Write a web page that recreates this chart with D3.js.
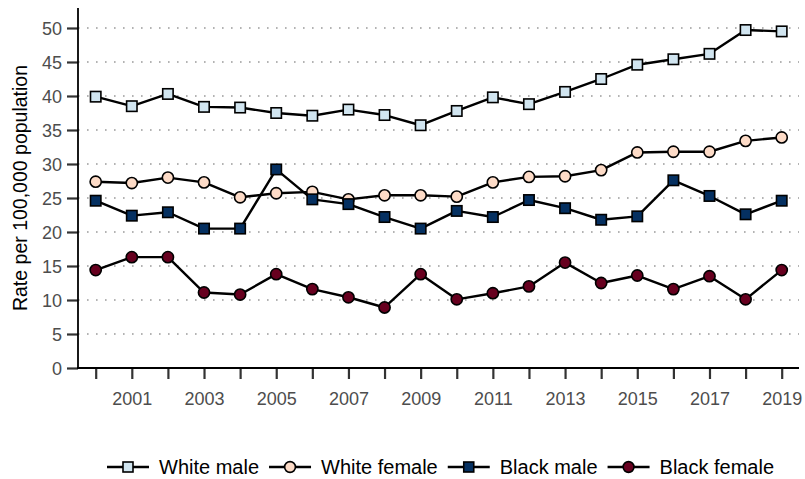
<!DOCTYPE html>
<html>
<head>
<meta charset="utf-8">
<script src="https://cdn.jsdelivr.net/npm/d3@7"></script>
<style>
  html, body { margin: 0; padding: 0; background: #fff; }
  svg { display: block; font-family: "Liberation Sans", Arial, Helvetica, sans-serif; }
</style>
</head>
<body>
<svg id="chart" width="805" height="479"></svg>
<script>
const years = [2000,2001,2002,2003,2004,2005,2006,2007,2008,2009,2010,2011,2012,2013,2014,2015,2016,2017,2018,2019];
const whiteMale   = [39.9,38.5,40.3,38.4,38.3,37.5,37.1,38.0,37.2,35.7,37.8,39.8,38.8,40.6,42.5,44.6,45.4,46.2,49.7,49.5];
const whiteFemale = [27.4,27.2,28.0,27.3,25.1,25.7,25.9,24.8,25.4,25.4,25.2,27.3,28.1,28.2,29.1,31.7,31.8,31.8,33.4,33.9];
const blackMale   = [24.6,22.4,22.9,20.5,20.5,29.2,24.8,24.1,22.2,20.5,23.1,22.2,24.7,23.5,21.8,22.3,27.6,25.3,22.6,24.6];
const blackFemale = [14.4,16.3,16.3,11.1,10.8,13.8,11.6,10.4,8.9,13.8,10.1,11.0,12.0,15.5,12.5,13.6,11.6,13.5,10.1,14.4];
const seriesNames = ["White male","White female","Black male","Black female"];
const seriesColors = ["#d1e5f0","#fddbc7","#053061","#67001f"];
const seriesShapes = ["square","circle","square","circle"];
const yTicks = [0,5,10,15,20,25,30,35,40,45,50];
const xTickYears = [2001,2003,2005,2007,2009,2011,2013,2015,2017,2019];
const yTitle = "Rate per 100,000 population";

const seriesValues = [whiteMale, whiteFemale, blackMale, blackFemale];
const series = seriesNames.map((name, i) => ({
  name, color: seriesColors[i], shape: seriesShapes[i],
  values: years.map((yr, j) => ({year: yr, value: seriesValues[i][j]}))
}));

const svg = d3.select("#chart");
const panel = {left: 78, right: 799, top: 8, bottom: 368};

const x = d3.scaleLinear().domain([2000, 2019]).range([95.7, 781.7]);
const y = d3.scaleLinear().domain([0, 52.94]).range([panel.bottom, panel.top]);

// gridlines
svg.append("g").selectAll("line").data(yTicks.filter(d => d > 0)).join("line")
  .attr("x1", panel.left).attr("x2", panel.right)
  .attr("y1", d => y(d)).attr("y2", d => y(d))
  .attr("stroke", "#9a9a9a").attr("stroke-width", 1.4)
  .attr("stroke-dasharray", "1.6,7.4");

// y axis
const yAxis = d3.axisLeft(y).tickValues(yTicks).tickSize(11).tickPadding(5).tickFormat(d3.format("d"));
const gy = svg.append("g").attr("transform", `translate(${panel.left},0)`).call(yAxis);
gy.select(".domain").remove();
gy.selectAll(".tick line").attr("stroke", "#333").attr("stroke-width", 2.2);
gy.selectAll(".tick text").attr("fill", "#4d4d4d").style("font-size", "18px")
  .style("font-family", "'Liberation Sans', Arial, sans-serif").attr("dy", "0.36em");

// x axis
const xAxis = d3.axisBottom(x).tickValues(years).tickSize(11).tickPadding(13)
  .tickFormat(d => xTickYears.includes(d) ? String(d) : "");
const gx = svg.append("g").attr("transform", `translate(0,${panel.bottom})`).call(xAxis);
gx.select(".domain").remove();
gx.selectAll(".tick line").attr("stroke", "#333").attr("stroke-width", 2.2);
gx.selectAll(".tick text").attr("fill", "#4d4d4d").style("font-size", "18px")
  .style("font-family", "'Liberation Sans', Arial, sans-serif");

// axis lines
svg.append("line").attr("x1", panel.left).attr("x2", panel.left)
  .attr("y1", panel.top).attr("y2", panel.bottom + 1)
  .attr("stroke", "#000").attr("stroke-width", 1.8);
svg.append("line").attr("x1", panel.left - 1).attr("x2", panel.right)
  .attr("y1", panel.bottom).attr("y2", panel.bottom)
  .attr("stroke", "#000").attr("stroke-width", 1.8);

// y title
svg.append("text")
  .attr("transform", `translate(27,${(panel.top + panel.bottom) / 2}) rotate(-90)`)
  .attr("text-anchor", "middle")
  .attr("fill", "#000")
  .style("font-size", "19.5px")
  .text(yTitle);

// lines
const line = d3.line().x(d => x(d.year)).y(d => y(d.value));
svg.append("g").selectAll("path").data(series).join("path")
  .attr("d", d => line(d.values))
  .attr("fill", "none").attr("stroke", "#000").attr("stroke-width", 2.4)
  .attr("stroke-linejoin", "round");

// points
const sq = 10.4, rad = 5.6;
function drawMarker(g, shape, color, cx, cy, s, r) {
  if (shape === "square") {
    g.append("rect").attr("x", cx - s/2).attr("y", cy - s/2).attr("width", s).attr("height", s)
      .attr("fill", color).attr("stroke", "#000").attr("stroke-width", 1.6);
  } else {
    g.append("circle").attr("cx", cx).attr("cy", cy).attr("r", r)
      .attr("fill", color).attr("stroke", "#000").attr("stroke-width", 1.6);
  }
}
series.forEach(s => {
  const g = svg.append("g");
  s.values.forEach(v => drawMarker(g, s.shape, s.color, x(v.year), y(v.value), sq, rad));
});

// legend
const legend = svg.append("g");
let lx = 107;
const ly = 467;
series.forEach(s => {
  const g = legend.append("g");
  g.append("line").attr("x1", lx).attr("x2", lx + 42).attr("y1", ly).attr("y2", ly)
    .attr("stroke", "#000").attr("stroke-width", 2.4);
  drawMarker(g, s.shape, s.color, lx + 21, ly, 10, 5.4);
  const t = g.append("text").attr("x", lx + 52).attr("y", ly + 7)
    .attr("fill", "#000").style("font-size", "20px").text(s.name);
  const w = t.node().getComputedTextLength();
  lx = lx + 52 + w + 10;
});
</script>
</body>
</html>
